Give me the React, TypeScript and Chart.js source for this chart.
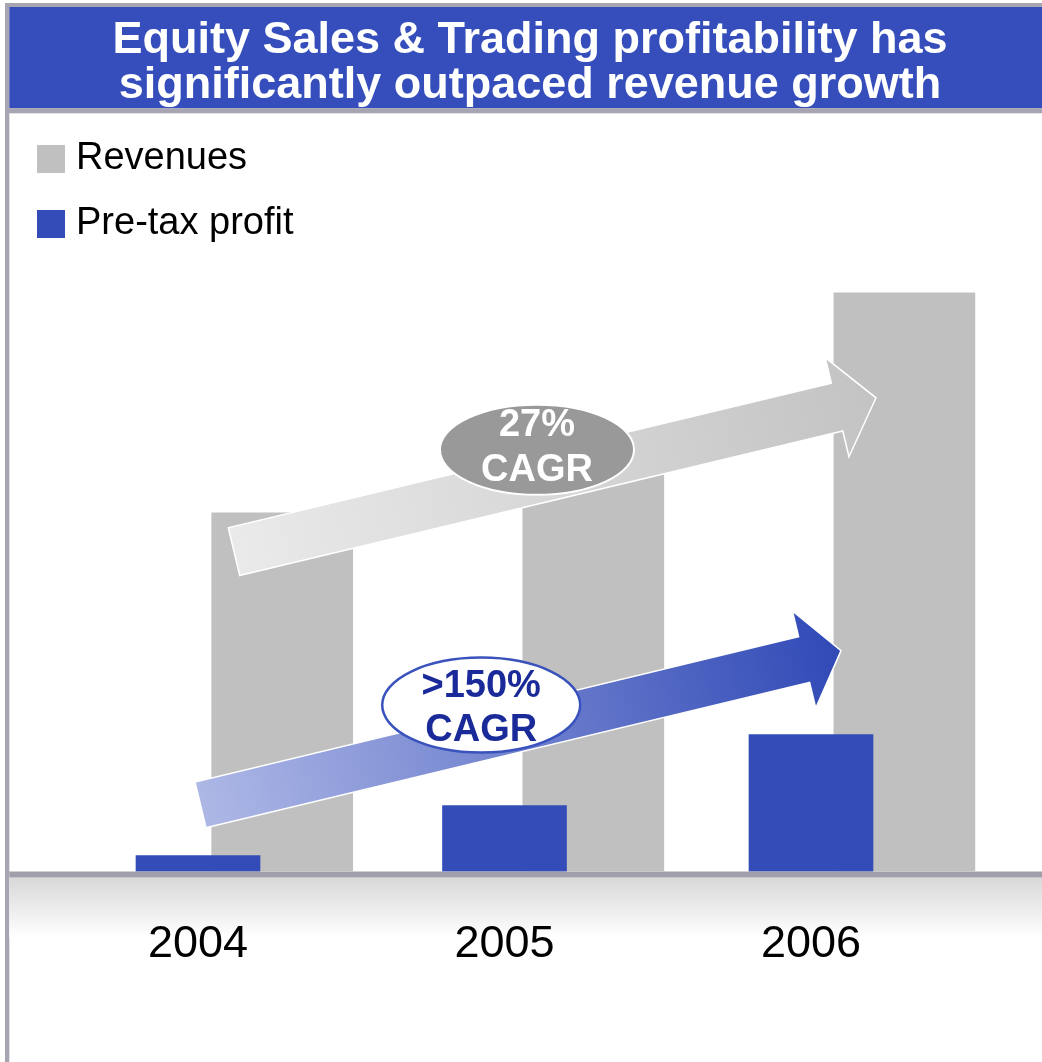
import React, { useEffect, useRef } from "react";
import { Chart, registerables } from "chart.js";

Chart.register(...registerables);

// ---------- data ----------
const years = ["2004", "2005", "2006"];
const revenues = [3.59, 3.97, 5.79];
const pretaxProfit = [0.16, 0.66, 1.37];
const titleLines = ["Equity Sales & Trading profitability has", "significantly outpaced revenue growth"];
const seriesNames = ["Revenues", "Pre-tax profit"];
const revenueCagrLines = ["27%", "CAGR"];
const profitCagrLines = [">150%", "CAGR"];

// ---------- styles ----------
const FONT = '"Liberation Sans", Arial, Helvetica, sans-serif';
const GREY_BAR = "#C0C0C0";
const BLUE_BAR = "#334CB8";
const TITLE_BG = "#354EBB";
const FRAME = "#A6A5B1";
const AXIS_LINE = "#A19FAC";

// annotation geometry (in data units of the profit x-axis / value axis)
const arrows = [
  { from: [0.1175, 3.2], to: [2.212, 4.74], shaft: 49, head: 102, headLen: 40, c0: "#EAEAEA", c1: "#C3C3C3" },
  { from: [0.0082, 0.667], to: [2.098, 2.21], shaft: 47, head: 100, headLen: 38, c0: "#AEB8E6", c1: "#3049B6" },
];
const bubbles = [
  { at: [1.106, 4.22], rx: 97, ry: 45, fill: "#999999", stroke: "#FFFFFF", lw: 2, color: "#FFFFFF", lines: revenueCagrLines, base: [-14, 31.5] },
  { at: [0.924, 1.665], rx: 99, ry: 47.5, fill: "#FFFFFF", stroke: "#3A52BC", lw: 2.5, color: "#1A2B99", lines: profitCagrLines, base: [-8, 36] },
];

const frameTitlePlugin = {
  id: "frameTitle",
  afterLayout(chart: any) {
    // place the legend inside the plot area, at its top-left corner
    const lg = chart.legend;
    if (lg) {
      const h = lg.bottom - lg.top;
      lg.top = chart.chartArea.top + 2;
      lg.bottom = lg.top + h;
    }
  },
  beforeDraw(chart: any) {
    const { ctx, width, height, chartArea } = chart;
    ctx.save();
    // frame
    ctx.fillStyle = FRAME;
    ctx.fillRect(5, 3, width - 5, 4);
    ctx.fillRect(5, 3, 4.3, height - 3);
    ctx.fillStyle = TITLE_BG;
    ctx.fillRect(9.3, 7, width - 9.3, 101.3);
    ctx.fillStyle = FRAME;
    ctx.fillRect(5, 108.3, width - 5, 5);
    // axis band
    const b = chartArea.bottom;
    const g = ctx.createLinearGradient(0, b + 6, 0, b + 66);
    g.addColorStop(0, "#D8D8D8");
    g.addColorStop(1, "#FFFFFF");
    ctx.fillStyle = g;
    ctx.fillRect(9.3, b + 6, width - 9.3, 60);
    ctx.fillStyle = AXIS_LINE;
    ctx.fillRect(9.3, b, width - 9.3, 6);
    ctx.restore();
  },
};

function drawArrow(ctx: CanvasRenderingContext2D, sx: number, sy: number, tx: number, ty: number, a: any) {
  const dx = tx - sx, dy = ty - sy;
  const len = Math.hypot(dx, dy);
  const ux = dx / len, uy = dy / len;
  const nx = -uy, ny = ux;
  const bx = tx - ux * a.headLen, by = ty - uy * a.headLen;
  const s = a.shaft / 2, h = a.head / 2;
  const pts = [
    [sx + nx * s, sy + ny * s],
    [bx + nx * s, by + ny * s],
    [bx + nx * h, by + ny * h],
    [tx, ty],
    [bx - nx * h, by - ny * h],
    [bx - nx * s, by - ny * s],
    [sx - nx * s, sy - ny * s],
  ];
  const g = ctx.createLinearGradient(sx, sy, tx, ty);
  g.addColorStop(0, a.c0);
  g.addColorStop(1, a.c1);
  ctx.beginPath();
  pts.forEach((p, i) => (i ? ctx.lineTo(p[0], p[1]) : ctx.moveTo(p[0], p[1])));
  ctx.closePath();
  ctx.fillStyle = g;
  ctx.fill();
  ctx.lineJoin = "miter";
  ctx.lineWidth = 1.5;
  ctx.strokeStyle = "#FFFFFF";
  ctx.stroke();
}

const annotationPlugin = {
  id: "cagrAnnotations",
  afterDatasetsDraw(chart: any) {
    const { ctx } = chart;
    const xs = chart.scales.x;
    const ys = chart.scales.y;
    ctx.save();
    arrows.forEach((a) => {
      drawArrow(
        ctx,
        xs.getPixelForValue(a.from[0]),
        ys.getPixelForValue(a.from[1]),
        xs.getPixelForValue(a.to[0]),
        ys.getPixelForValue(a.to[1]),
        a
      );
    });
    bubbles.forEach((b) => {
      const cx = xs.getPixelForValue(b.at[0]);
      const cy = ys.getPixelForValue(b.at[1]);
      ctx.beginPath();
      ctx.ellipse(cx, cy, b.rx, b.ry, 0, 0, Math.PI * 2);
      ctx.fillStyle = b.fill;
      ctx.fill();
      ctx.lineWidth = b.lw;
      ctx.strokeStyle = b.stroke;
      ctx.stroke();
      ctx.fillStyle = b.color;
      ctx.font = `bold 38px ${FONT}`;
      ctx.textAlign = "center";
      ctx.textBaseline = "alphabetic";
      b.lines.forEach((t, i) => ctx.fillText(t, cx, cy + b.base[i]));
    });
    ctx.restore();
  },
};

export default function App() {
  const ref = useRef<HTMLCanvasElement>(null);

  useEffect(() => {
    if (!ref.current) return;
    const chart = new Chart(ref.current, {
      type: "bar",
      data: {
        datasets: [
          {
            label: seriesNames[0],
            data: revenues.map((v, i) => ({ x: i, y: v })),
            backgroundColor: GREY_BAR,
            xAxisID: "x2",
            yAxisID: "y",
            barThickness: 141,
            grouped: false,
            order: 2,
            borderWidth: 0,
          } as any,
          {
            label: seriesNames[1],
            data: pretaxProfit.map((v, i) => ({ x: i, y: v })),
            backgroundColor: BLUE_BAR,
            xAxisID: "x",
            yAxisID: "y",
            barThickness: 124,
            grouped: false,
            order: 1,
            borderWidth: 0,
          } as any,
        ],
      },
      options: {
        animation: false,
        responsive: false,
        devicePixelRatio: 1,
        layout: { padding: { left: 18, right: 0, top: 0, bottom: 43.5 } },
        scales: {
          x: {
            type: "linear",
            min: -0.5873,
            max: 2.7537,
            offset: false,
            grid: { display: false, drawTicks: false, tickLength: 0, offset: false },
            border: { display: false },
            afterBuildTicks: (scale: any) => {
              scale.ticks = years.map((_, i) => ({ value: i }));
            },
            ticks: {
              padding: 46.5,
              color: "#000000",
              font: { family: FONT, size: 45 },
              maxRotation: 0,
              autoSkip: false,
              callback: (v: any) => years[Math.round(Number(v))] ?? "",
            },
          },
          x2: {
            type: "linear",
            display: false,
            min: -0.8493,
            max: 2.4423,
            offset: false,
            grid: { display: false, offset: false },
          },
          y: {
            display: false,
            min: 0,
            max: 7.61,
          },
        } as any,
        plugins: {
          title: {
            display: true,
            text: titleLines,
            color: "#FFFFFF",
            font: { family: FONT, size: 45, weight: "bold", lineHeight: "45px" } as any,
            padding: { top: 18, bottom: 3 },
          },
          legend: {
            display: true,
            position: "chartArea",
            align: "start",
            labels: {
              color: "#000000",
              font: { family: FONT, size: 38 },
              boxWidth: 12,
              boxHeight: 12,
              padding: 27,
              sort: (a: any, b: any) => a.datasetIndex - b.datasetIndex,
              generateLabels: (c: any) =>
                Chart.defaults.plugins.legend.labels.generateLabels(c).map((l: any) => ({
                  ...l,
                  lineWidth: 16,
                  strokeStyle: l.fillStyle,
                  lineJoin: "miter",
                })),
            },
          } as any,
          tooltip: { enabled: false },
        },
      },
      plugins: [frameTitlePlugin, annotationPlugin],
    });
    return () => chart.destroy();
  }, []);

  return (
    <div style={{ position: "absolute", left: 0, top: 0, width: 1042, height: 1062 }}>
      <canvas ref={ref} width={1042} height={1062} style={{ display: "block", width: 1042, height: 1062 }} />
    </div>
  );
}
